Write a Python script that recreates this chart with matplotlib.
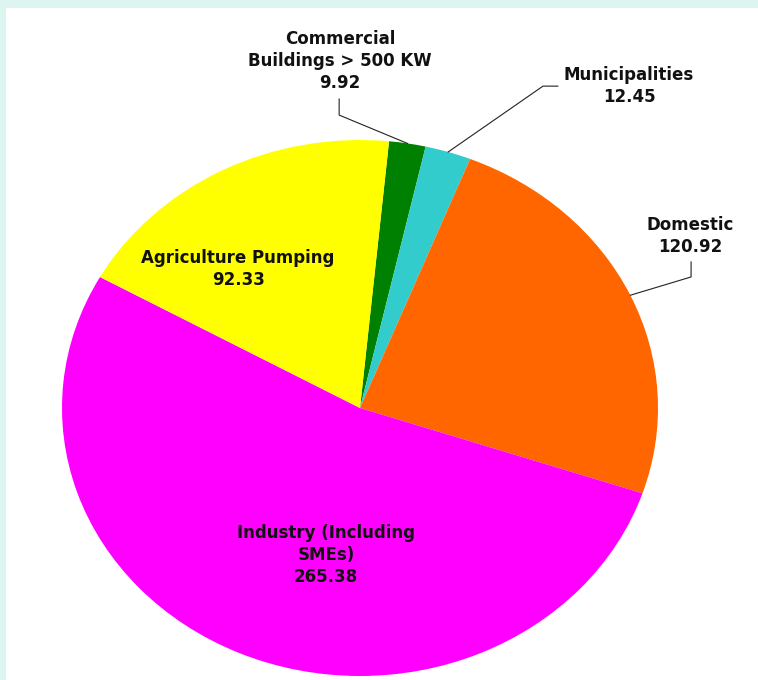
import matplotlib
matplotlib.use('Agg')
import matplotlib.pyplot as plt
from matplotlib.patches import Rectangle
import numpy as np

# Connected load by category
categories = ['Commercial\nBuildings > 500 KW', 'Municipalities', 'Domestic',
              'Industry (Including\nSMEs)', 'Agriculture Pumping']
values = [9.92, 12.45, 120.92, 265.38, 92.33]
colors = ['#008000', '#33cccc', '#ff6600', '#ff00ff', '#ffff00']

plt.rcParams['font.family'] = ['DejaVu Sans']

fig = plt.figure(figsize=(7.58, 6.8), dpi=100)
fig.patch.set_facecolor('#dcf5f0')
# white panel inside the mint frame
fig.patches.append(Rectangle((6 / 758, 0), 1, 1 - 8 / 680, transform=fig.transFigure,
                             facecolor='white', edgecolor='none', zorder=-10))

ax = fig.add_axes([62 / 758, 4 / 680, 596 / 758, 536 / 680])
wedges, _ = ax.pie(values, colors=colors, startangle=84.4, counterclock=False,
                   wedgeprops=dict(linewidth=0))
ax.set_aspect('auto')
ax.set_xlim(-1, 1)
ax.set_ylim(-1, 1)
ax.axis('off')

def label_text(i):
    return categories[i] + '\n' + '%.2f' % values[i]

def edge_point(w):
    a = np.deg2rad((w.theta1 + w.theta2) / 2)
    return np.cos(a), np.sin(a)

tkw = dict(ha='center', va='center', fontsize=12, fontweight='bold',
           linespacing=1.3, color='#111111')

# labels outside, with leader lines
ax.text(-0.067, 1.295, label_text(0), **tkw)
ex, ey = edge_point(wedges[0])
ax.plot([ex, -0.070, -0.070], [ey, 1.093, 1.153], color='#222222', lw=0.8, clip_on=False)

ax.text(0.903, 1.201, label_text(1), **tkw)
ex, ey = edge_point(wedges[1])
ax.plot([ex, 0.614, 0.664], [ey, 1.201, 1.201], color='#222222', lw=0.8, clip_on=False)

ax.text(1.107, 0.642, label_text(2), **tkw)
ex, ey = edge_point(wedges[2])
ax.plot([ex, 1.111, 1.111], [ey, 0.489, 0.545], color='#222222', lw=0.8, clip_on=False)

# labels inside the slices
ax.text(-0.114, -0.549, label_text(3), **tkw)
ax.text(-0.409, 0.519, label_text(4), **tkw)

fig.savefig('out.png', dpi=100, facecolor=fig.get_facecolor())
